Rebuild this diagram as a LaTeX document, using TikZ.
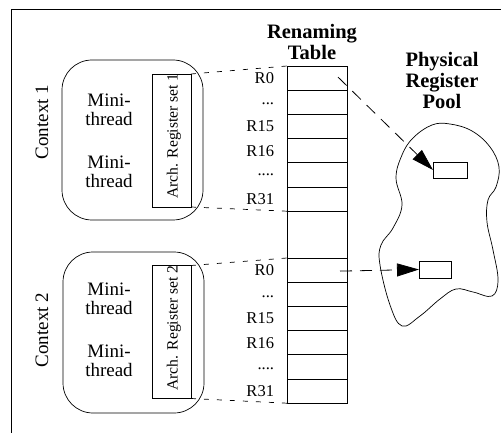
\documentclass[tikz,border=0pt]{standalone}
\usepackage{fontspec}
\setmainfont{Liberation Serif}
\usetikzlibrary{arrows.meta,calc}
\begin{document}
\begin{tikzpicture}[x=1pt,y=-1pt,
  every node/.style={inner sep=0pt, outer sep=0pt},
  ctx/.style={draw, rounded corners=30pt, minimum width=141pt, minimum height=160pt, line width=0.7pt},
  archbox/.style={draw, minimum width=39pt, minimum height=133pt, line width=0.7pt},
  archtxt/.style={rotate=90, font=\fontsize{15.6}{17}\selectfont},
  ctxlab/.style={rotate=90, font=\fontsize{19}{20}\selectfont},
  mini/.style={align=center, font=\fontsize{19}{19}\selectfont},
  row/.style={draw, minimum width=60pt, minimum height=24.2pt, line width=0.8pt},
  reglab/.style={font=\fontsize{16.5}{17}\selectfont, anchor=east},
  title/.style={align=center, font=\fontsize{20.5}{21}\selectfont\bfseries},
  preg/.style={draw, line width=0.7pt},
  link/.style={dash pattern=on 5pt off 8pt, line width=0.7pt},
  map/.style={dash pattern=on 12pt off 8pt, line width=0.8pt, -{Triangle[length=22pt,width=13pt]}}
]
\useasboundingbox (0,0) rectangle (501,433);
% frame
\draw[line width=0.9pt] (11,433) -- (11,9) -- (501,9);

% contexts
\node[ctx] (ctx1) at (132.5,140) {};
\node[ctx, minimum height=161pt] (ctx2) at (133.5,332.5) {};
\node[ctxlab] (c1lab) at (42,122) {Context 1};
\node[ctxlab] (c2lab) at (42,330) {Context 2};

\node[mini] (m11) at (109,110) {Mini-\\thread};
\node[mini] (m12) at (109,172) {Mini-\\thread};
\node[mini] (m21) at (109,299) {Mini-\\thread};
\node[mini] (m22) at (109,361) {Mini-\\thread};

\node[archbox] (arch1) at (171.5,140.5) {};
\node[archtxt] (arch1t) at (174,136) {Arch. Register set 1};
\node[archbox] (arch2) at (171.5,332) {};
\node[archtxt] (arch2t) at (174,328) {Arch. Register set 2};

% titles
\node[title] (rt) at (312,42) {Renaming\\Table};
\node[title] (pt) at (442,80) {Physical\\Register\\Pool};

% renaming table
\node[row] (a0) at (317,78.1) {};
\node[row] (a1) at (317,102.3) {};
\node[row] (a2) at (317,126.5) {};
\node[row] (a3) at (317,150.7) {};
\node[row] (a4) at (317,174.9) {};
\node[row] (a5) at (317,199.1) {};
\node[row, minimum height=46.8pt] (gap) at (317,234.6) {};
\node[row] (b0) at (317,270.1) {};
\node[row] (b1) at (317,294.3) {};
\node[row] (b2) at (317,318.5) {};
\node[row] (b3) at (317,342.7) {};
\node[row] (b4) at (317,366.9) {};
\node[row] (b5) at (317,391.1) {};

\node[reglab] (la0) at ($(a0.west)+(-13,0)$) {R0};
\node[reglab] (la1) at ($(a1.west)+(-13,1)$) {...};
\node[reglab] (la2) at ($(a2.west)+(-13,0)$) {R15};
\node[reglab] (la3) at ($(a3.west)+(-13,0)$) {R16};
\node[reglab] (la4) at ($(a4.west)+(-13,0)$) {....};
\node[reglab] (la5) at ($(a5.west)+(-13,0)$) {R31};
\node[reglab] (lb0) at ($(b0.west)+(-13,0)$) {R0};
\node[reglab] (lb1) at ($(b1.west)+(-13,2)$) {...};
\node[reglab] (lb2) at ($(b2.west)+(-13,0)$) {R15};
\node[reglab] (lb3) at ($(b3.west)+(-13,0)$) {R16};
\node[reglab] (lb4) at ($(b4.west)+(-13,2)$) {....};
\node[reglab] (lb5) at ($(b5.west)+(-13,0)$) {R31};

% dashed links
\draw[link] (arch1.north east) -- (a0.north west);
\draw[link] (arch1.south east) -- (a5.south west);
\draw[link] (arch2.north east) -- (b0.north west);
\draw[link] (arch2.south east) -- (b5.south west);

% physical register pool
\draw[line width=0.7pt] plot[smooth cycle, tension=0.65] coordinates {
 (432,125) (450,124) (472,131) (490,147) (499,167) (496,187) (488,200)
 (487,222) (493,250) (498,280) (492,296) (473,292) (456,289) (440,299)
 (420,316) (402,326) (390,305) (380,265) (381,245) (393,228) (402,205)
 (396,178) (402,155) (413,138)};

\node[preg, minimum width=34pt, minimum height=16pt] (p1) at (450,170) {};
\node[preg, minimum width=32pt, minimum height=17pt] (p2) at (435,269.5) {};

\draw[map] ($(a0.east)+(-9,-1)$) -- (p1.west);
\draw[map] ($(b0.east)+(-7,1)$) -- (p2.west);
\end{tikzpicture}
\end{document}
